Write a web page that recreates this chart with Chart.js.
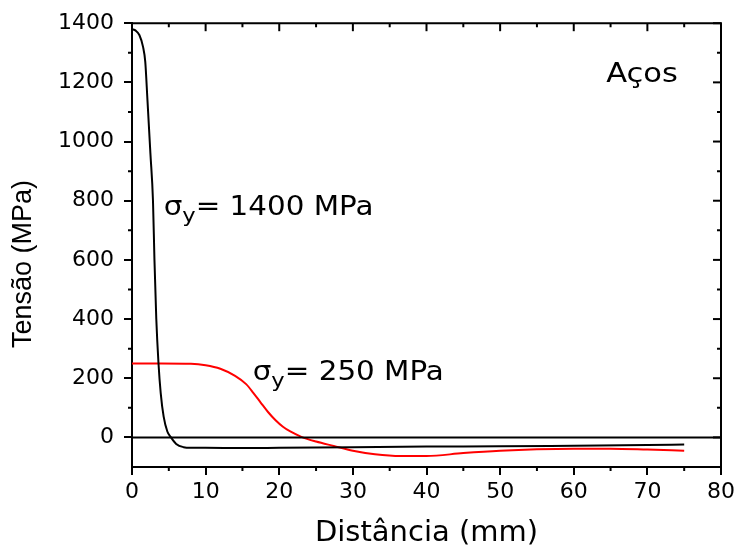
<!DOCTYPE html>
<html>
<head>
<meta charset="utf-8">
<script src="https://cdn.jsdelivr.net/npm/chart.js@4.4.0/dist/chart.umd.min.js"></script>
<style>
  html, body { margin: 0; padding: 0; background: #fff; }
</style>
</head>
<body>
<canvas id="chart" width="739" height="545"></canvas>
<script>
// tension profile, steel with high yield strength
var blackX = [0, 0.5, 1, 1.5, 1.8, 2.1, 2.5, 2.85, 3.05, 3.3, 3.6, 3.9, 4.3, 4.8, 5.3, 6, 7, 8, 10, 15, 20, 30, 40, 50, 60, 70, 75];
var blackY = [1380, 1375, 1360, 1320, 1270, 1140, 960, 800, 600, 400, 250, 150, 70, 20, 0, -22, -33, -35, -35, -36, -35, -33, -31, -30, -28, -26, -24];

// steel with low yield strength
var redX = [0, 4, 8, 10, 12, 14, 15.5, 16.5, 17.5, 18.5, 19.5, 20.5, 21.5, 23, 25, 27.4, 30, 33, 36.5, 40, 45, 50, 55, 60, 65, 70, 75];
var redY = [250, 250, 249, 244, 232, 208, 180, 150, 117, 85, 58, 36, 20, 2, -14, -29, -45, -57, -63, -63, -53, -45, -40, -38, -38, -41, -45];

var xTickValues = [0, 10, 20, 30, 40, 50, 60, 70, 80];
var yTickValues = [0, 200, 400, 600, 800, 1000, 1200, 1400];

function toPoints(xs, ys) {
  return xs.map(function (x, i) { return { x: x, y: ys[i] }; });
}

// frame, zero line, minor ticks and the text labels
var decorations = {
  id: 'decorations',
  afterDatasetsDraw: function (chart) {
    var ctx = chart.ctx;
    var a = chart.chartArea;
    var xs = chart.scales.x, ys = chart.scales.y;
    ctx.save();
    ctx.strokeStyle = '#000';
    ctx.lineWidth = 2;

    // zero line
    var y0 = ys.getPixelForValue(0);
    ctx.beginPath();
    ctx.moveTo(a.left, y0);
    ctx.lineTo(a.right, y0);
    ctx.stroke();

    // top and right frame
    ctx.beginPath();
    ctx.moveTo(a.left - 1, a.top);
    ctx.lineTo(a.right, a.top);
    ctx.lineTo(a.right, a.bottom + 1);
    ctx.stroke();

    // x ticks: minor outward at bottom, all inward at top
    for (var v = 0; v <= 80; v += 5) {
      var px = xs.getPixelForValue(v);
      var major = v % 10 === 0;
      var len = major ? 8 : 4;
      ctx.beginPath();
      if (!major) {
        ctx.moveTo(px, a.bottom);
        ctx.lineTo(px, a.bottom + 4);
      }
      ctx.moveTo(px, a.top);
      ctx.lineTo(px, a.top + len);
      ctx.stroke();
    }
    // y ticks: minor outward at left, all inward at right
    for (var w = -100; w <= 1400; w += 100) {
      var py = ys.getPixelForValue(w);
      var majorY = w % 200 === 0;
      var lenY = majorY ? 8 : 4;
      ctx.beginPath();
      if (!majorY && w > -100) {
        ctx.moveTo(a.left, py);
        ctx.lineTo(a.left - 4, py);
      }
      if (w > -100) {
        ctx.moveTo(a.right, py);
        ctx.lineTo(a.right - lenY, py);
      }
      ctx.stroke();
    }

    // y axis title, sits a bit below the middle of the axis
    ctx.fillStyle = '#000';
    ctx.save();
    ctx.translate(24, 264);
    ctx.rotate(-Math.PI / 2);
    ctx.font = '27px "Liberation Sans"';
    ctx.textAlign = 'center';
    ctx.textBaseline = 'middle';
    ctx.fillText('Tensão (MPa)', 0, 0);
    ctx.restore();

    // labels
    ctx.textBaseline = 'alphabetic';
    function stretched(x, y, draw) {
      ctx.save();
      ctx.translate(x, y);
      ctx.scale(1.13, 1);
      draw();
      ctx.restore();
    }
    function sigmaLabel(vx, vy, rest) {
      var x = xs.getPixelForValue(vx), y = ys.getPixelForValue(vy);
      stretched(x, y, function () {
        ctx.font = '26px "DejaVu Sans"';
        ctx.fillText('\u03C3', 0, 0);
        var w1 = ctx.measureText('\u03C3').width;
        ctx.font = '20px "DejaVu Sans"';
        ctx.fillText('y', w1, 7);
        var w2 = ctx.measureText('y').width;
        ctx.font = '26px "DejaVu Sans"';
        ctx.fillText(rest, w1 + w2, 0);
      });
    }
    sigmaLabel(4.3, 752, '= 1400 MPa');
    sigmaLabel(16.4, 195, '= 250 MPa');

    stretched(xs.getPixelForValue(64.4), ys.getPixelForValue(1202), function () {
      ctx.font = '27px "DejaVu Sans"';
      ctx.fillText('A\u00E7os', 0, 0);
    });
    ctx.restore();
  }
};

new Chart(document.getElementById('chart'), {
  type: 'line',
  data: {
    datasets: [{
      label: 'sy = 1400 MPa',
      data: toPoints(blackX, blackY),
      borderColor: '#000000',
      borderWidth: 2,
      pointRadius: 0,
      cubicInterpolationMode: 'monotone',
      fill: false
    }, {
      label: 'sy = 250 MPa',
      data: toPoints(redX, redY),
      borderColor: '#FF0000',
      borderWidth: 2,
      pointRadius: 0,
      cubicInterpolationMode: 'monotone',
      fill: false
    }]
  },
  options: {
    responsive: false,
    animation: false,
    devicePixelRatio: 1,
    layout: { padding: { top: 22, right: 17, left: 0, bottom: 0 } },
    plugins: {
      legend: { display: false },
      tooltip: { enabled: false }
    },
    scales: {
      x: {
        type: 'linear',
        min: 0,
        max: 80,
        afterBuildTicks: function (s) { s.ticks = xTickValues.map(function (v) { return { value: v }; }); },
        afterFit: function (s) { s.height = 78; },
        ticks: {
          color: '#000',
          font: { family: 'DejaVu Sans', size: 22 },
          padding: 4,
          maxRotation: 0,
          autoSkip: false,
          callback: function (v) { return String(v); }
        },
        grid: { drawOnChartArea: false, drawTicks: true, tickLength: 8, color: '#000', lineWidth: 2 },
        border: { display: true, color: '#000', width: 2 },
        title: {
          display: true,
          text: 'Distância (mm)',
          color: '#000',
          font: { family: 'DejaVu Sans', size: 29, lineHeight: 0.78 },
          padding: 0
        }
      },
      y: {
        type: 'linear',
        min: -100,
        max: 1400,
        afterBuildTicks: function (s) { s.ticks = yTickValues.map(function (v) { return { value: v }; }); },
        afterFit: function (s) { s.width = 132; },
        ticks: {
          color: '#000',
          font: { family: 'DejaVu Sans', size: 22 },
          padding: 10,
          autoSkip: false,
          callback: function (v) { return String(v); }
        },
        grid: { drawOnChartArea: false, drawTicks: true, tickLength: 8, color: '#000', lineWidth: 2 },
        border: { display: true, color: '#000', width: 2 }
      }
    }
  },
  plugins: [decorations]
});
</script>
</body>
</html>
